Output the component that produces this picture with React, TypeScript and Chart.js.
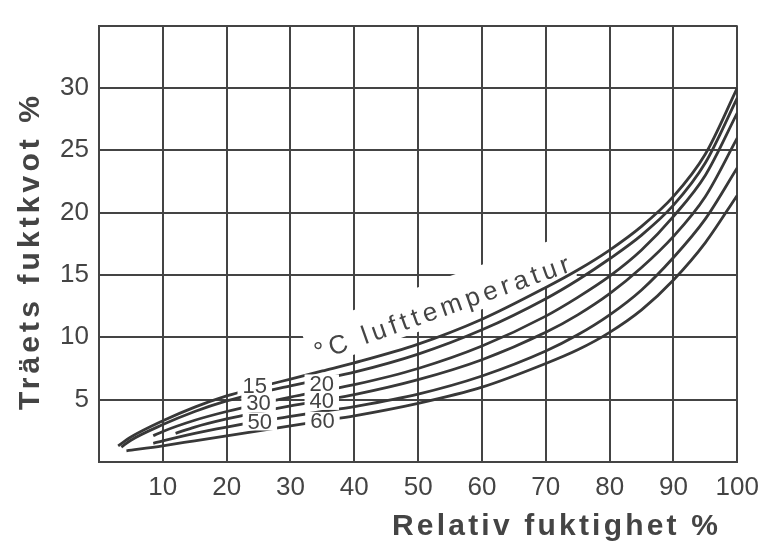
import React, { useEffect, useRef } from 'react';
import { Chart, registerables } from 'chart.js';

Chart.register(...registerables);

// ---- data ----
const X_TICKS = [10, 20, 30, 40, 50, 60, 70, 80, 90, 100];
const Y_TICKS = [5, 10, 15, 20, 25, 30];
const TEMP_LABELS = ['15', '20', '30', '40', '50', '60'];

const RH_15 = [3, 5, 10, 15, 20, 25, 30, 35, 40, 50, 60, 70, 75, 80, 85, 90, 95, 100];
const MC_15 = [1.3, 2.0, 3.3, 4.4, 5.3, 6.0, 6.65, 7.3, 7.95, 9.45, 11.45, 14.0, 15.4, 17.0, 18.9, 21.3, 24.7, 30.0];
const RH_20 = [3.5, 5, 10, 15, 20, 25, 30, 35, 40, 50, 60, 70, 75, 80, 85, 90, 95, 100];
const MC_20 = [1.2, 1.75, 3.0, 4.05, 4.9, 5.55, 6.1, 6.65, 7.2, 8.65, 10.6, 13.1, 14.6, 16.3, 18.2, 20.6, 24.0, 29.2];
const RH_30 = [8.5, 10, 15, 20, 25, 30, 35, 40, 50, 60, 70, 75, 80, 85, 90, 95, 100];
const MC_30 = [2.1, 2.45, 3.35, 4.05, 4.65, 5.2, 5.7, 6.2, 7.5, 9.3, 11.7, 13.2, 14.9, 17.0, 19.7, 23.0, 28.0];
const RH_40 = [12, 15, 20, 25, 30, 35, 40, 50, 60, 70, 75, 80, 85, 90, 95, 100];
const MC_40 = [2.3, 2.8, 3.45, 4.0, 4.5, 4.95, 5.4, 6.6, 8.2, 10.4, 11.8, 13.5, 15.6, 18.1, 21.3, 26.0];
const RH_50 = [8.5, 10, 15, 20, 25, 30, 35, 40, 50, 60, 70, 75, 80, 85, 90, 95, 100];
const MC_50 = [1.5, 1.7, 2.3, 2.8, 3.25, 3.65, 4.05, 4.45, 5.45, 6.9, 8.9, 10.2, 11.8, 13.8, 16.4, 19.5, 23.6];
const RH_60 = [4.3, 10, 15, 20, 25, 30, 35, 40, 50, 60, 70, 75, 80, 85, 90, 95, 100];
const MC_60 = [0.9, 1.3, 1.7, 2.1, 2.5, 2.9, 3.3, 3.7, 4.7, 6.0, 7.9, 9.0, 10.4, 12.2, 14.6, 17.6, 21.4];

const SERIES_RH = [RH_15, RH_20, RH_30, RH_40, RH_50, RH_60];
const SERIES_MC = [MC_15, MC_20, MC_30, MC_40, MC_50, MC_60];

// curve label anchor points (data coordinates)
const LABEL_RH = [24.4, 34.9, 25.0, 34.9, 25.2, 35.0];
const LABEL_MC = [6.1, 6.3, 4.7, 4.9, 3.25, 3.3];

const CURVE_TITLE = '°C lufttemperatur';
const CURVE_TITLE_START = [34.3, 8.1];
const CURVE_TITLE_END = [74.0, 15.3];

const X_TITLE = 'Relativ fuktighet %';
const Y_TITLE = 'Träets fuktkvot %';

const INK = '#444444';
const FONT = '"Liberation Sans", Arial, sans-serif';

function fitText(ctx: CanvasRenderingContext2D, text: string, target: number) {
  (ctx as any).letterSpacing = '0px';
  const w = ctx.measureText(text).width;
  const ls = (target - w) / Math.max(1, text.length - 1);
  (ctx as any).letterSpacing = ls + 'px';
}

const annotations = {
  id: 'annotations',
  beforeDatasetsDraw(chart: any) {
    const { ctx, scales } = chart;
    const x = scales.x, y = scales.y;
    const x0 = x.getPixelForValue(CURVE_TITLE_START[0]);
    const y0 = y.getPixelForValue(CURVE_TITLE_START[1]);
    const x1 = x.getPixelForValue(CURVE_TITLE_END[0]);
    const y1 = y.getPixelForValue(CURVE_TITLE_END[1]);
    const ang = Math.atan2(y1 - y0, x1 - x0);
    const len = Math.hypot(x1 - x0, y1 - y0);
    ctx.save();
    ctx.translate(x0, y0);
    ctx.rotate(ang);
    ctx.fillStyle = '#ffffff';
    ctx.fillRect(-6, -36, len + 10, 42);
    ctx.restore();
  },
  afterDatasetsDraw(chart: any) {
    const { ctx, scales } = chart;
    const x = scales.x, y = scales.y;
    ctx.save();
    ctx.font = '22px ' + FONT;
    ctx.textAlign = 'center';
    ctx.textBaseline = 'middle';
    TEMP_LABELS.forEach((t, i) => {
      const px = x.getPixelForValue(LABEL_RH[i]);
      const py = y.getPixelForValue(LABEL_MC[i]);
      const w = ctx.measureText(t).width;
      ctx.fillStyle = '#ffffff';
      ctx.fillRect(px - w / 2 - 5, py - 9, w + 10, 18);
      ctx.fillStyle = INK;
      ctx.fillText(t, px, py + 1);
    });
    // curve title
    const x0 = x.getPixelForValue(CURVE_TITLE_START[0]);
    const y0 = y.getPixelForValue(CURVE_TITLE_START[1]);
    const x1 = x.getPixelForValue(CURVE_TITLE_END[0]);
    const y1 = y.getPixelForValue(CURVE_TITLE_END[1]);
    const ang = Math.atan2(y1 - y0, x1 - x0);
    const len = Math.hypot(x1 - x0, y1 - y0);
    ctx.translate(x0, y0);
    ctx.rotate(ang);
    ctx.font = '26px ' + FONT;
    ctx.textAlign = 'left';
    ctx.textBaseline = 'alphabetic';
    fitText(ctx, CURVE_TITLE, len);
    ctx.fillStyle = INK;
    ctx.fillText(CURVE_TITLE, 0, 0);
    ctx.restore();
  },
  afterDraw(chart: any) {
    const { ctx } = chart;
    ctx.save();
    ctx.fillStyle = INK;
    ctx.font = 'bold 30px ' + FONT;
    ctx.textBaseline = 'middle';
    ctx.textAlign = 'left';
    // x title
    fitText(ctx, X_TITLE, 326);
    ctx.fillText(X_TITLE, 392, 527);
    // y title
    ctx.translate(31, 410);
    ctx.rotate(-Math.PI / 2);
    fitText(ctx, Y_TITLE, 314);
    ctx.fillText(Y_TITLE, 0, 0);
    ctx.restore();
  },
};

export default function App() {
  const ref = useRef<HTMLCanvasElement>(null);
  useEffect(() => {
    document.body.style.margin = '0';
    const canvas = ref.current!;
    const datasets = SERIES_RH.map((rh, i) => ({
      label: TEMP_LABELS[i],
      data: rh.map((v, j) => ({ x: v, y: SERIES_MC[i][j] })),
      borderColor: '#383838',
      borderWidth: 2.8,
      pointRadius: 0,
      fill: false,
      cubicInterpolationMode: 'monotone' as const,
    }));
    const tickFont = { family: FONT, size: 26 };
    const chart = new Chart(canvas, {
      type: 'line',
      data: { datasets },
      options: {
        animation: false,
        responsive: false,
        maintainAspectRatio: false,
        events: [],
        layout: { padding: { left: 0, right: 31, top: 10, bottom: 0 } },
        plugins: { legend: { display: false }, tooltip: { enabled: false } },
        scales: {
          x: {
            type: 'linear',
            min: 0,
            max: 100,
            afterBuildTicks: (s: any) => {
              s.ticks = [0, ...X_TICKS].map((v) => ({ value: v }));
            },
            afterFit: (s: any) => {
              s.height = 89;
            },
            ticks: {
              color: INK,
              font: tickFont,
              padding: 10,
              maxRotation: 0,
              autoSkip: false,
              callback: (v: any) => (X_TICKS.includes(v) ? String(v) : ''),
            },
            grid: { color: INK, lineWidth: 2, drawTicks: false },
            border: { color: INK, width: 2 },
          },
          y: {
            type: 'linear',
            min: 0,
            max: 35,
            afterBuildTicks: (s: any) => {
              s.ticks = [0, ...Y_TICKS, 35].map((v) => ({ value: v }));
            },
            afterFit: (s: any) => {
              s.width = 99;
            },
            ticks: {
              color: INK,
              font: tickFont,
              padding: 10,
              autoSkip: false,
              callback: (v: any) => (Y_TICKS.includes(v) ? String(v) : ''),
            },
            grid: { color: INK, lineWidth: 2, drawTicks: false },
            border: { color: INK, width: 2 },
          },
        },
      },
      plugins: [annotations],
    });
    return () => chart.destroy();
  }, []);
  return (
    <div style={{ width: 769, height: 551, background: '#fff' }}>
      <canvas ref={ref} width={769} height={551} style={{ display: 'block' }} />
    </div>
  );
}
